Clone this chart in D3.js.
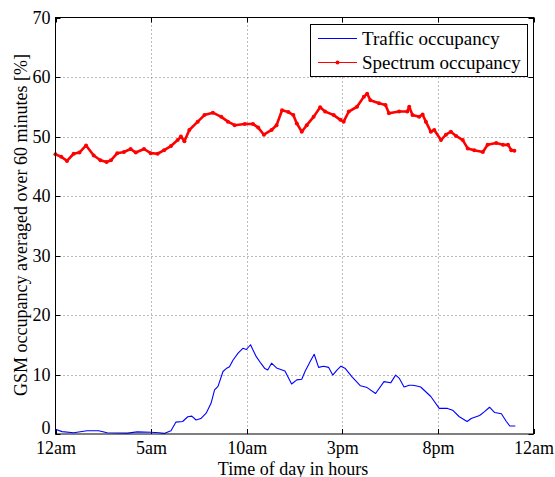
<!DOCTYPE html>
<html>
<head>
<meta charset="utf-8">
<script src="https://cdn.jsdelivr.net/npm/d3@7/dist/d3.min.js"></script>
<style>
  html, body { margin: 0; padding: 0; background: #fff; }
  svg { display: block; }
  svg text { font-family: "Liberation Serif", "DejaVu Serif", "Times New Roman", Times, serif !important; fill: #000; }
</style>
</head>
<body>
<svg id="chart" width="555" height="477"></svg>
<script>
// Hour of day for each spectrum sample and its occupancy [%]
const spectrumHours = [0, 0.3, 0.6, 0.95, 1.25, 1.6, 2.0, 2.35, 2.67, 2.9, 3.23, 3.58, 3.93, 4.2, 4.63, 4.98,
  5.34, 5.68, 6.04, 6.39, 6.56, 6.74, 7.0, 7.44, 7.79, 8.23, 8.67, 9.02, 9.37, 9.9, 10.33, 10.6,
  10.9, 11.3, 11.56, 11.85, 12.18, 12.44, 12.62, 12.88, 13.14, 13.5, 13.84, 14.1, 14.55, 14.9, 15.07,
  15.34, 15.77, 16.13, 16.3, 16.47, 16.92, 17.26, 17.44, 17.97, 18.4, 18.5, 18.67, 19.02, 19.2,
  19.37, 19.63, 19.81, 20.16, 20.42, 20.68, 20.95, 21.3, 21.56, 21.9, 22.35, 22.6, 23.05, 23.4,
  23.67, 23.84, 24.0];
const spectrumValues = [47.0, 46.6, 45.9, 47.1, 47.3, 48.5, 46.8, 46.0, 45.7, 46.0, 47.2, 47.4, 47.9, 47.3, 47.9, 47.2,
  47.1, 47.7, 48.4, 49.4, 50.0, 49.2, 51.1, 52.5, 53.6, 54.0, 53.3, 52.5, 51.9, 52.1, 52.1, 51.5,
  50.3, 51.1, 51.9, 54.4, 54.1, 53.6, 52.2, 50.8, 51.9, 53.3, 54.9, 54.2, 53.6, 52.8, 52.5,
  54.2, 55.0, 56.7, 57.2, 56.1, 55.6, 55.3, 53.9, 54.2, 54.2, 55.0, 53.6, 53.3, 53.7,
  52.5, 50.8, 51.1, 49.4, 50.3, 50.8, 50.1, 49.4, 48.0, 47.7, 47.4, 48.6, 48.9, 48.6,
  48.6, 47.7, 47.6];

// Hour of day for each traffic sample and its occupancy [%]
const trafficHours = [0, 0.34, 0.95, 1.65, 2.26, 2.7, 3.76, 4.28, 4.98, 5.42, 5.68, 6.04, 6.3, 6.65, 6.92,
  7.13, 7.35, 7.6, 7.88, 8.14, 8.32, 8.5, 8.76, 8.93, 9.1, 9.28, 9.55, 9.8, 9.98, 10.2, 10.33,
  10.5, 10.74, 10.95, 11.1, 11.3, 11.56, 12.0, 12.35, 12.62, 12.88, 13.05, 13.32, 13.53, 13.76,
  14.02, 14.28, 14.5, 14.72, 14.93, 15.16, 15.51, 15.95, 16.3, 16.74, 17.18, 17.53, 17.79,
  17.97, 18.23, 18.5, 18.67, 18.84, 19.1, 19.63, 20.07, 20.5, 20.77, 21.12, 21.53, 21.74,
  22.18, 22.44, 22.7, 22.97, 23.32, 23.58, 23.76, 24.05];
const trafficValues = [0.8, 0.4, 0.2, 0.55, 0.55, 0.2, 0.15, 0.35, 0.3, 0.2, 0.1, 0.55, 2.0, 2.1, 2.9,
  3.0, 2.35, 2.6, 3.5, 5.2, 7.4, 8.0, 10.5, 11.0, 11.3, 12.4, 13.6, 14.4, 14.2, 15.0, 14.1,
  13.0, 11.9, 11.0, 10.75, 11.9, 11.1, 10.6, 8.4, 9.1, 9.2, 10.5, 12.2, 13.4, 11.2,
  11.4, 11.2, 9.9, 10.75, 11.4, 11.0, 9.6, 8.1, 7.8, 6.8, 8.8, 8.6, 9.9,
  9.4, 7.9, 8.2, 8.2, 8.1, 7.9, 6.3, 4.3, 4.3, 4.0, 2.9, 2.1, 2.6,
  3.1, 3.75, 4.5, 3.6, 3.4, 2.1, 1.35, 1.35];

const xTicks = [0, 5, 10, 15, 20, 25];
const xTickLabels = ["12am", "5am", "10am", "3pm", "8pm", "12am"];
const yTicks = [0, 10, 20, 30, 40, 50, 60, 70];
const seriesNames = ["Traffic occupancy", "Spectrum occupancy"];
const seriesColors = ["#0000ff", "#ff0000"];

const FONT = "'Liberation Serif', 'DejaVu Serif', 'Times New Roman', Times, serif";

const svg = d3.select("#chart");
const m = { left: 55.5, top: 17.5, right: 533.5, bottom: 434 };

const x = d3.scaleLinear().domain([0, 25]).range([m.left, m.right]);
const y = d3.scaleLinear().domain([0, 70]).range([m.bottom, m.top]);

// Dotted grid
const grid = svg.append("g");
grid.selectAll(".gx").data(xTicks.slice(1, -1)).join("line")
  .attr("x1", d => Math.round(x(d)) + 0.5).attr("x2", d => Math.round(x(d)) + 0.5)
  .attr("y1", m.top).attr("y2", m.bottom)
  .attr("stroke", "#7a7a7a").attr("stroke-width", 1).attr("stroke-dasharray", "1,3");
grid.selectAll(".gy").data(yTicks.slice(1, -1)).join("line")
  .attr("y1", d => Math.round(y(d)) + 0.5).attr("y2", d => Math.round(y(d)) + 0.5)
  .attr("x1", m.left).attr("x2", m.right)
  .attr("stroke", "#7a7a7a").attr("stroke-width", 1).attr("stroke-dasharray", "1,3");

// Axes with inward ticks on all four sides
const tickLen = 5;
const xb = d3.axisBottom(x).tickValues(xTicks).tickSize(0).tickPadding(7)
  .tickFormat((d, i) => xTickLabels[i]);
const yl = d3.axisLeft(y).tickValues(yTicks).tickSize(0).tickPadding(5);

const gx = svg.append("g").attr("transform", `translate(0,${m.bottom})`).call(xb);
const gy = svg.append("g").attr("transform", `translate(${m.left},0)`).call(yl);
[gx, gy].forEach(g => {
  g.attr("font-family", FONT);
  g.select(".domain").remove();
  g.selectAll("text").style("font-family", FONT).style("font-size", "18px").attr("fill", "#000");
});
// the zero label sits just above the corner so it clears the x labels
gy.selectAll(".tick").filter(d => d === 0).select("text").attr("dy", "-0.03em");

const ticks = svg.append("g").attr("stroke", "#000").attr("stroke-width", 1);
xTicks.forEach(t => {
  const px = Math.round(x(t)) + 0.5;
  ticks.append("line").attr("x1", px).attr("x2", px).attr("y1", m.bottom).attr("y2", m.bottom - tickLen);
  ticks.append("line").attr("x1", px).attr("x2", px).attr("y1", m.top).attr("y2", m.top + tickLen);
});
yTicks.forEach(t => {
  const py = Math.round(y(t)) + 0.5;
  ticks.append("line").attr("y1", py).attr("y2", py).attr("x1", m.left).attr("x2", m.left + tickLen);
  ticks.append("line").attr("y1", py).attr("y2", py).attr("x1", m.right).attr("x2", m.right - tickLen);
});

// Series
const traffic = trafficHours.map((h, i) => [h, trafficValues[i]]);
const spectrum = spectrumHours.map((h, i) => [h, spectrumValues[i]]);
const line = d3.line().x(d => x(d[0])).y(d => y(d[1]));

svg.append("path").datum(traffic).attr("d", line)
  .attr("fill", "none").attr("stroke", seriesColors[0]).attr("stroke-width", 1.1)
  .attr("stroke-linejoin", "round");

svg.append("path").datum(spectrum).attr("d", line)
  .attr("fill", "none").attr("stroke", seriesColors[1]).attr("stroke-width", 2.6)
  .attr("stroke-linejoin", "round");
svg.append("g").selectAll("circle").data(spectrum).join("circle")
  .attr("cx", d => x(d[0])).attr("cy", d => y(d[1])).attr("r", 2)
  .attr("fill", seriesColors[1]);

// Axes box
svg.append("rect").attr("x", m.left).attr("y", m.top)
  .attr("width", m.right - m.left).attr("height", m.bottom - m.top)
  .attr("fill", "none").attr("stroke", "#000").attr("stroke-width", 1);

// Axis titles
svg.append("text").attr("x", 293).attr("y", 474.5)
  .attr("text-anchor", "middle").style("font-size", "18px").text("Time of day in hours");
svg.append("text").attr("transform", `translate(26.5,225) rotate(-90)`)
  .attr("text-anchor", "middle").style("font-size", "18px")
  .text("GSM occupancy averaged over 60 minutes [%]");

// Legend
const lg = svg.append("g");
lg.append("rect").attr("x", 310.5).attr("y", 24.5).attr("width", 217).attr("height", 52)
  .attr("fill", "#fff").attr("stroke", "#000").attr("stroke-width", 1);
const rowsY = [38.5, 62.5];
seriesNames.forEach((name, i) => {
  lg.append("line").attr("x1", 318).attr("x2", 357).attr("y1", rowsY[i]).attr("y2", rowsY[i])
    .attr("stroke", seriesColors[i]).attr("stroke-width", 1.2);
  if (i === 1) {
    lg.append("circle").attr("cx", 337.5).attr("cy", rowsY[i]).attr("r", 2).attr("fill", seriesColors[i]);
  }
  lg.append("text").attr("x", 362).attr("y", rowsY[i]).attr("dy", "0.33em")
    .style("font-size", "19px").text(name);
});
</script>
</body>
</html>
